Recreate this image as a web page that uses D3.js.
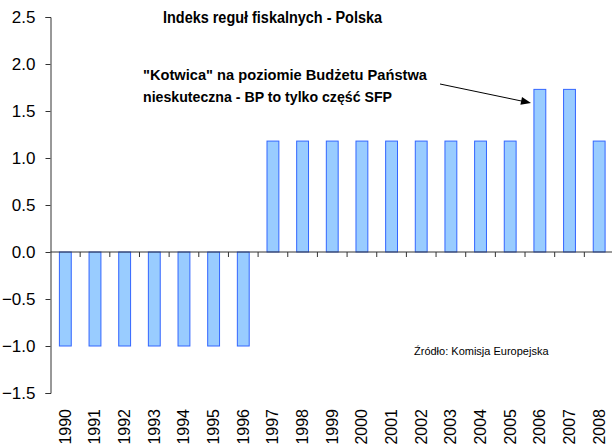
<!DOCTYPE html>
<html>
<head>
<meta charset="utf-8">
<script src="https://cdn.jsdelivr.net/npm/d3@7"></script>
<style>
body { margin: 0; background: #fff; }
text { font-family: "Liberation Sans", Arial, sans-serif; fill: #000; }
.bold { font-weight: bold; }
</style>
</head>
<body>
<div id="chart"></div>
<script>
// data
var years = ['1990','1991','1992','1993','1994','1995','1996','1997','1998','1999',
             '2000','2001','2002','2003','2004','2005','2006','2007','2008'];
var values = [-1, -1, -1, -1, -1, -1, -1, 1.18, 1.18, 1.18,
              1.18, 1.18, 1.18, 1.18, 1.18, 1.18, 1.73, 1.73, 1.18];
var yTicks = [2.5, 2.0, 1.5, 1.0, 0.5, 0.0, -0.5, -1.0, -1.5];

(function() {
var width = 612, height = 447;
var pLeft = 50.5, pRight = 614, pTop = 17, pBottom = 393;

var svg = d3.select('#chart').append('svg')
    .attr('width', width).attr('height', height);

var x = d3.scaleBand().domain(years).range([pLeft, pRight]).paddingInner(0.6).paddingOuter(0.3);
var xb = d3.scaleBand().domain(years).range([pLeft, pRight]);
var y = d3.scaleLinear().domain([-1.5, 2.5]).range([pBottom, pTop]);

// y axis
var yAxis = svg.append('g').attr('transform', 'translate(' + pLeft + ',0)')
    .call(d3.axisLeft(y).tickValues(yTicks).tickSizeInner(5).tickSizeOuter(5).tickPadding(10)
        .tickFormat(d3.format('.1f')));
yAxis.selectAll('text').style('font-size', '17px').attr('fill', '#000');
yAxis.selectAll('path, line').attr('stroke', '#333');

// bars
svg.append('g').selectAll('rect').data(values).enter().append('rect')
    .attr('x', function(d, i) { return x(years[i]); })
    .attr('width', x.bandwidth())
    .attr('y', function(d) { return y(Math.max(0, d)); })
    .attr('height', function(d) { return Math.abs(y(d) - y(0)); })
    .attr('fill', '#99CCFF')
    .attr('stroke', '#3366FF')
    .attr('stroke-width', 1);

// x axis at zero with ticks between categories
var xg = svg.append('g');
xg.append('line').attr('x1', pLeft).attr('x2', pRight)
    .attr('y1', y(0)).attr('y2', y(0)).attr('stroke', '#333');
xg.selectAll('line.tk').data(years.slice(1)).enter().append('line')
    .attr('class', 'tk')
    .attr('x1', function(d) { return xb(d); }).attr('x2', function(d) { return xb(d); })
    .attr('y1', y(0)).attr('y2', y(0) + 5).attr('stroke', '#333');

// year labels, rotated
svg.append('g').selectAll('text').data(years).enter().append('text')
    .attr('transform', function(d) {
        return 'translate(' + (xb(d) + xb.bandwidth() / 2 + 5.5) + ',409) rotate(-90)';
    })
    .attr('text-anchor', 'end')
    .style('font-size', '16px')
    .text(function(d) { return d; });

// title
svg.append('text').attr('class', 'bold')
    .attr('x', 163).attr('y', 23)
    .attr('textLength', 219).attr('lengthAdjust', 'spacingAndGlyphs')
    .style('font-size', '16px')
    .text('Indeks reguł fiskalnych - Polska');

// annotation
svg.append('text').attr('class', 'bold')
    .attr('x', 143).attr('y', 80).style('font-size', '15px')
    .attr('textLength', 284).attr('lengthAdjust', 'spacingAndGlyphs')
    .text('"Kotwica" na poziomie Budżetu Państwa');
svg.append('text').attr('class', 'bold')
    .attr('x', 143).attr('y', 102).style('font-size', '15px')
    .attr('textLength', 249).attr('lengthAdjust', 'spacingAndGlyphs')
    .text('nieskuteczna - BP to tylko część SFP');

// arrow
var ax1 = 440, ay1 = 84, ax2 = 531, ay2 = 103;
var ang = Math.atan2(ay2 - ay1, ax2 - ax1);
svg.append('line')
    .attr('x1', ax1).attr('y1', ay1)
    .attr('x2', ax2 - 8 * Math.cos(ang)).attr('y2', ay2 - 8 * Math.sin(ang))
    .attr('stroke', '#000').attr('stroke-width', 1);
svg.append('path')
    .attr('d', 'M0,0 L-10,-4 L-10,4 Z')
    .attr('fill', '#000')
    .attr('transform', 'translate(' + ax2 + ',' + ay2 + ') rotate(' + (ang * 180 / Math.PI) + ')');

// source
svg.append('text')
    .attr('x', 414).attr('y', 355).style('font-size', '11px')
    .text('Źródło: Komisja Europejska');
})();
</script>
</body>
</html>
